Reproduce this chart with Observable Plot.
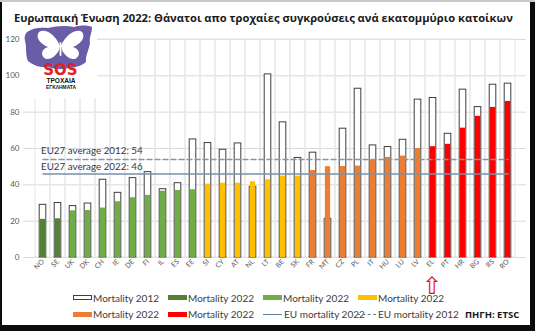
<!DOCTYPE html>
<html>
<head>
<meta charset="utf-8">
<script src="https://cdn.jsdelivr.net/npm/d3@7"></script>
<script src="https://cdn.jsdelivr.net/npm/@observablehq/plot@0.6"></script>
<style>
  html, body { margin: 0; padding: 0; }
  body { width: 535px; height: 331px; background: #0b0b0b; position: relative; overflow: hidden; font-family: Lato, "Open Sans", sans-serif; }
  #topstrip { position: absolute; left: 0; top: 0; width: 535px; height: 2px; background: #c8c8c8; }
  #panel { position: absolute; left: 2px; top: 2px; width: 528px; height: 323px; background: #fff; }
  #title { position: absolute; left: 14px; top: 10px; font-family: "Open Sans", sans-serif; font-weight: 700; font-size: 11.3px; color: #1a1a1a; white-space: nowrap; }
  #chart { position: absolute; left: 0; top: 30px; }
  #chart svg { overflow: visible; }
  #chart g[aria-label="x-axis tick label"] text, #chart g[aria-label="x-axis"] text { font-size: 7px; }
  #logo { position: absolute; left: 22px; top: 25px; }
  .lg { position: absolute; display: flex; align-items: center; font-family: Lato, sans-serif; font-size: 10px; color: #404040; white-space: nowrap; height: 12px; }
  .sw { width: 19px; height: 5px; margin-right: 1px; box-sizing: border-box; }
  .ln { width: 19px; height: 0; margin-right: 2px; border-top: 1.3px solid #5f7ea6; }
  .ln.d { border-top: 1.3px dashed #5f7ea6; }
  #source { position: absolute; left: 465px; top: 308px; font-family: "Open Sans", sans-serif; font-weight: 700; font-size: 9.5px; color: #1a1a1a; }
</style>
</head>
<body>
<div id="topstrip"></div>
<div id="panel"></div>
<div id="title">Ευρωπαική Ένωση 2022: Θάνατοι απο τροχαίες συγκρούσεις ανά εκατομμύριο κατοίκων</div>
<div id="chart"></div>
<svg id="logo" width="75" height="73" viewBox="0 0 75 73">
  <rect x="0" y="0" width="75" height="73" fill="#fff"/>
  <path d="M5,7 C10,3 18,2 26,3 C34,1 44,0 52,2 C58,0 66,0 70,2 C70,8 67,12 68,18 C67,25 63,31 64,37 C59,41 52,43 46,43 C40,45 32,44 26,42 C18,43 11,40 6,36 C3,29 5,22 3,16 C2,12 3,9 5,7 Z" fill="#6b5ca8"/>
  <path d="M38,21 C33,9 23,3 17,7 C13,12 18,19 26,22 C19,24 18,31 24,34 C30,35 35,29 37,25 Z" fill="#fff"/>
  <path d="M39,21 C44,9 55,3 60,7 C64,12 59,19 51,22 C58,24 59,31 53,34 C47,35 42,29 40,25 Z" fill="#fff"/>
  <rect x="37.6" y="17" width="1.8" height="14" rx="0.9" fill="#fff"/>
  <text x="38.5" y="50" text-anchor="middle" font-family="'DejaVu Sans', sans-serif" font-weight="700" font-size="15" fill="#e31e24">SOS</text>
  <text x="39" y="57.5" text-anchor="middle" font-family="'Liberation Sans', sans-serif" font-weight="700" font-size="7.5" textLength="29" lengthAdjust="spacingAndGlyphs" fill="#111">ΤΡΟΧΑΙΑ</text>
  <text x="39" y="64" text-anchor="middle" font-family="'Liberation Sans', sans-serif" font-weight="700" font-size="6" textLength="30" lengthAdjust="spacingAndGlyphs" fill="#111">ΕΓΚΛΗΜΑΤΑ</text>
</svg>

<div class="lg" style="left:73px; top:291.5px;"><div class="sw" style="background:#fff;border:1px solid #404040;"></div>Mortality 2012</div>
<div class="lg" style="left:168px; top:291.5px;"><div class="sw" style="background:#548235;"></div>Mortality 2022</div>
<div class="lg" style="left:263px; top:291.5px;"><div class="sw" style="background:#70ad47;"></div>Mortality 2022</div>
<div class="lg" style="left:358px; top:291.5px;"><div class="sw" style="background:#ffc000;"></div>Mortality 2022</div>
<div class="lg" style="left:73px; top:308px;"><div class="sw" style="background:#ed7d31;"></div>Mortality 2022</div>
<div class="lg" style="left:168px; top:308px;"><div class="sw" style="background:#ff0000;"></div>Mortality 2022</div>
<div class="lg" style="left:263px; top:308px;"><div class="ln"></div>EU mortality 2022</div>
<div class="lg" style="left:357px; top:308px;"><div class="ln d"></div>EU mortality 2012</div>
<div id="source">ΠΗΓΗ: ETSC</div>

<script>
const countries = ["NO","SE","UK","DK","CH","IE","DE","FI","IL","ES","EE","SI","CY","AT","NL","LT","BE","SK","FR","MT","CZ","PL","IT","HU","LU","LV","EL","PT","HR","BG","RS","RO"];
const mortality2012 = [29,30,28.3,29.7,42.8,35.6,43.7,47,37.6,40.9,65,63,59.3,62.8,38.9,100.8,74.4,54.8,57.7,21.3,70.9,92.9,61.7,60.8,64.8,86.9,87.8,68.1,92.4,82.8,95.1,95.7];
const mortality2022 = [21,21.3,25.7,25.9,27.2,30.7,32.9,34.2,36.5,36.9,37.3,40.4,40.9,40.9,41.7,42.8,44.8,44.8,47.9,50,50.1,50.3,53.4,55.1,55.8,60,61,62.3,71.2,77.7,82.6,85.9];
const groups = ["g1","g1","g2","g2","g2","g2","g2","g2","g2","g2","g2","g3","g3","g3","g3","g3","g3","g3","g4","g4","g4","g4","g4","g4","g4","g4","g5","g5","g5","g5","g5","g5"];
const groupNames = ["g1","g2","g3","g4","g5"];
const groupColors = ["#548235","#70ad47","#ffc000","#ed7d31","#ff0000"];
const euAverage2012 = 54;
const euAverage2022 = 46;
const yTicks = [0,20,40,60,80,100,120];
const highlighted = ["EL"];

const data = countries.map((c, i) => ({country: c, v2012: mortality2012[i], v2022: mortality2022[i], group: groups[i]}));
const first = countries[0], last = countries[countries.length - 1];

const chart = Plot.plot({
  width: 535,
  height: 270,
  marginLeft: 23,
  marginRight: 9,
  marginTop: 9,
  marginBottom: 43,
  style: {fontFamily: "Lato, sans-serif", fontSize: "8px", color: "#595959", background: "transparent"},
  x: {type: "band", domain: countries, padding: 0, label: null, tickSize: 0, tickRotate: -45, tickPadding: 3},
  y: {domain: [0, 120], ticks: yTicks, label: null, tickSize: 0, tickPadding: 4},
  color: {domain: groupNames, range: groupColors},
  marks: [
    Plot.ruleY(yTicks, {stroke: "#d9d9d9", strokeWidth: 1}),
    Plot.barY(countries, {x: d => d, y1: 0, y2: 120, fill: "none", stroke: "#e6e6e6", strokeWidth: 1}),
    Plot.barY(data, {x: "country", y: "v2012", fill: "#fff", stroke: "#3f3f3f", strokeWidth: 1, insetLeft: 4.2, insetRight: 4.2}),
    Plot.barY(data, {x: "country", y: "v2022", fill: "group", insetLeft: 4.85, insetRight: 4.85}),
    Plot.lineY([{c: first, v: euAverage2012}, {c: last, v: euAverage2012}], {x: "c", y: "v", stroke: "#8397b0", strokeWidth: 1.5, strokeDasharray: "5,3"}),
    Plot.lineY([{c: first, v: euAverage2022}, {c: last, v: euAverage2022}], {x: "c", y: "v", stroke: "#7b90aa", strokeWidth: 1.5}),
    Plot.text([euAverage2012], {x: () => first, y: d => d, text: d => `EU27 average 2012: ${d}`, textAnchor: "start", dx: -2, dy: -9, fontSize: 9.8, fill: "#3a3a3a", fontFamily: "Lato, sans-serif"}),
    Plot.text([euAverage2022], {x: () => first, y: d => d, text: d => `EU27 average 2022: ${d}`, textAnchor: "start", dx: -2, dy: -7, fontSize: 9.8, fill: "#3a3a3a", fontFamily: "Lato, sans-serif"}),
    Plot.text(highlighted, {x: d => d, y: () => 0, text: () => "⇧", dy: 29, dx: -1, fill: "#e3161c", fontSize: 24, fontFamily: "DejaVu Sans"})
  ]
});
document.getElementById("chart").appendChild(chart);

// fit the title to the reference's width
const title = document.getElementById("title");
const targetWidth = 499;
const w = title.getBoundingClientRect().width;
if (w > 0) title.style.fontSize = (11.3 * targetWidth / w).toFixed(2) + "px";
</script>
</body>
</html>
